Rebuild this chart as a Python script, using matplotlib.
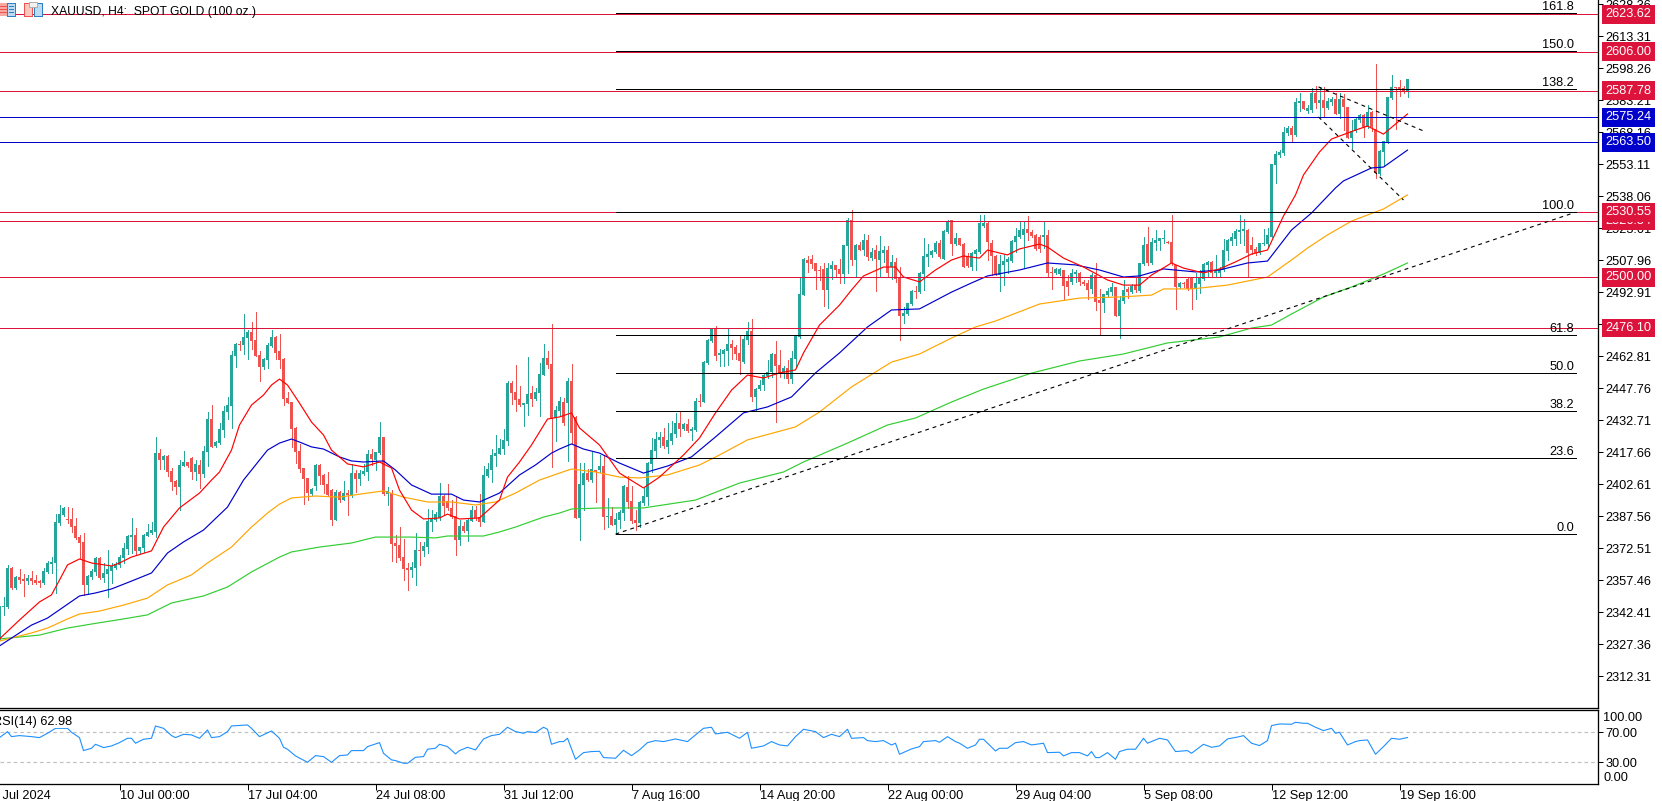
# XAUUSD H4 chart - MT5 style, candles + MAs + fibo + RSI panel
import matplotlib
matplotlib.use('Agg')
import matplotlib.pyplot as plt
from matplotlib.patches import Rectangle

plt.rcParams['font.family'] = ['Liberation Sans', 'DejaVu Sans']
plt.rcParams['font.size'] = 9.2

# OHLC, one value per H4 bar
opens = [
    2330.8, 2345.0, 2345.0, 2363.3, 2353.8, 2358.9, 2357.9, 2357.1, 2358.4, 2357.6,
    2357.1, 2356.3, 2361.5, 2365.3, 2365.8, 2384.4, 2388.2, 2386.3, 2386.3, 2383.0,
    2377.8, 2375.5, 2355.2, 2359.2, 2361.2, 2368.0, 2358.6, 2360.4, 2362.0, 2363.2,
    2364.5, 2368.0, 2372.2, 2378.0, 2378.8, 2371.1, 2372.7, 2378.3, 2379.7, 2380.2,
    2417.3, 2414.0, 2416.1, 2408.9, 2404.2, 2401.4, 2411.2, 2412.9, 2415.0, 2408.4,
    2411.7, 2407.4, 2417.8, 2433.3, 2420.6, 2422.0, 2428.1, 2436.6, 2439.4, 2463.0,
    2468.6, 2468.1, 2471.4, 2474.2, 2470.5, 2463.4, 2457.8, 2461.1, 2467.7, 2471.9,
    2465.3, 2461.5, 2443.2, 2441.3, 2429.1, 2418.3, 2410.3, 2405.6, 2398.0, 2401.8,
    2411.7, 2407.0, 2402.8, 2399.9, 2385.8, 2399.0, 2395.2, 2398.5, 2397.6, 2407.9,
    2405.1, 2407.5, 2408.4, 2416.9, 2414.0, 2417.3, 2424.9, 2398.0, 2398.5, 2375.0,
    2374.1, 2368.4, 2363.3, 2362.3, 2363.3, 2371.7, 2371.2, 2373.1, 2384.9, 2385.8,
    2386.8, 2397.1, 2394.8, 2391.5, 2387.7, 2376.4, 2382.8, 2380.6, 2385.3, 2390.5,
    2387.1, 2384.9, 2406.5, 2409.3, 2415.9, 2416.9, 2419.2, 2423.0, 2450.3, 2446.0,
    2442.7, 2439.9, 2440.4, 2445.5, 2442.7, 2445.5, 2454.0, 2462.0, 2459.2, 2433.8,
    2437.1, 2441.5, 2441.0, 2451.2, 2434.4, 2386.6, 2402.3, 2408.1, 2404.6, 2409.3,
    2409.3, 2411.2, 2387.1, 2387.7, 2383.5, 2385.8, 2389.3, 2401.2, 2394.7, 2385.8,
    2384.6, 2393.6, 2396.8, 2412.2, 2418.3, 2423.4, 2424.7, 2420.3, 2423.1, 2426.1,
    2431.3, 2428.6, 2431.0, 2427.8, 2428.1, 2441.9, 2441.5, 2459.6, 2470.0, 2475.6,
    2463.4, 2463.9, 2465.3, 2468.6, 2467.0, 2464.4, 2460.1, 2470.5, 2474.7, 2443.7,
    2447.4, 2449.3, 2453.5, 2455.3, 2463.9, 2458.7, 2455.4, 2457.5, 2452.1, 2461.5,
    2471.9, 2491.6, 2508.1, 2508.6, 2506.5, 2503.4, 2503.7, 2494.0, 2503.9, 2505.7,
    2503.9, 2501.5, 2514.7, 2526.9, 2508.1, 2515.1, 2512.8, 2517.5, 2508.9, 2512.8,
    2508.1, 2511.4, 2512.8, 2504.6, 2507.2, 2499.9, 2481.8, 2482.5, 2487.3, 2493.5,
    2493.2, 2501.4, 2509.5, 2510.4, 2511.9, 2516.1, 2508.7, 2521.1, 2526.9, 2515.6,
    2518.4, 2515.6, 2510.0, 2505.0, 2510.8, 2511.9, 2524.1, 2525.5, 2516.2, 2510.0,
    2501.0, 2505.7, 2507.3, 2507.8, 2516.6, 2518.9, 2519.9, 2522.7, 2521.3, 2519.9,
    2519.1, 2519.1, 2519.9, 2502.6, 2501.8, 2501.5, 2503.4, 2498.2, 2497.8, 2501.4,
    2501.8, 2497.8, 2497.3, 2494.5, 2501.0, 2489.3, 2488.0, 2491.6, 2493.0, 2495.4,
    2481.8, 2488.8, 2494.3, 2493.0, 2496.3, 2493.5, 2506.2, 2515.6, 2506.5, 2516.2,
    2517.0, 2517.8, 2516.7, 2516.6, 2505.6, 2495.3, 2497.4, 2499.0, 2499.9, 2494.3,
    2496.8, 2499.0, 2505.7, 2507.3, 2501.8, 2501.8, 2503.4, 2512.3, 2517.0, 2518.1,
    2521.4, 2521.6, 2522.2, 2515.2, 2513.3, 2511.5, 2515.6, 2515.6, 2519.1, 2552.8,
    2557.5, 2558.4, 2567.8, 2570.2, 2566.9, 2581.9, 2582.9, 2578.2, 2578.6, 2586.6,
    2581.8, 2583.4, 2579.4, 2582.4, 2583.8, 2576.8, 2583.8, 2579.9, 2565.3, 2568.8,
    2573.9, 2576.3, 2570.5, 2577.9, 2569.6, 2548.6, 2558.9, 2563.6, 2584.3, 2589.3,
    2589.3, 2588.8, 2587.6,
]
highs = [
    2345.5, 2349.8, 2364.7, 2363.5, 2359.5, 2362.6, 2360.4, 2359.8, 2361.8, 2359.8,
    2357.6, 2363.1, 2366.7, 2368.3, 2388.6, 2392.9, 2392.1, 2391.8, 2391.5, 2386.8,
    2378.9, 2379.7, 2360.1, 2362.6, 2368.6, 2368.6, 2365.4, 2371.7, 2365.4, 2365.9,
    2369.4, 2374.9, 2378.6, 2386.6, 2381.9, 2373.1, 2379.1, 2383.8, 2385.0, 2424.9,
    2419.2, 2416.5, 2416.4, 2410.1, 2404.6, 2414.0, 2418.3, 2413.1, 2415.5, 2414.0,
    2414.0, 2420.6, 2436.8, 2439.9, 2423.0, 2431.6, 2439.4, 2443.5, 2465.3, 2469.2,
    2470.0, 2482.7, 2475.2, 2479.0, 2483.5, 2465.3, 2462.0, 2469.1, 2475.2, 2472.4,
    2473.1, 2461.8, 2445.9, 2441.5, 2429.4, 2421.6, 2410.4, 2405.7, 2401.0, 2412.2,
    2412.2, 2407.5, 2408.4, 2400.2, 2399.9, 2399.5, 2404.2, 2399.9, 2412.2, 2409.3,
    2409.3, 2412.2, 2418.7, 2419.2, 2417.9, 2431.9, 2425.0, 2401.3, 2399.9, 2378.8,
    2382.5, 2376.9, 2365.6, 2366.1, 2379.7, 2375.5, 2375.5, 2391.0, 2390.5, 2389.6,
    2403.2, 2397.6, 2402.8, 2395.2, 2396.6, 2385.8, 2384.9, 2386.6, 2392.4, 2392.4,
    2398.0, 2411.2, 2412.8, 2419.2, 2425.8, 2423.9, 2428.6, 2451.2, 2451.2, 2458.7,
    2448.8, 2440.9, 2462.5, 2448.8, 2447.9, 2459.7, 2468.6, 2465.3, 2478.0, 2439.4,
    2443.7, 2443.0, 2452.8, 2459.2, 2434.6, 2412.5, 2412.5, 2409.6, 2417.9, 2409.4,
    2416.4, 2416.4, 2396.0, 2392.1, 2388.9, 2390.5, 2402.3, 2406.5, 2401.8, 2390.5,
    2394.9, 2400.7, 2413.3, 2424.2, 2427.0, 2427.4, 2428.9, 2431.3, 2432.5, 2436.0,
    2436.8, 2431.4, 2433.1, 2429.4, 2443.0, 2444.9, 2460.6, 2470.9, 2476.1, 2477.0,
    2466.2, 2466.2, 2475.6, 2470.5, 2468.1, 2472.4, 2472.8, 2478.9, 2480.3, 2447.7,
    2451.7, 2454.8, 2461.1, 2464.2, 2470.0, 2465.8, 2458.3, 2461.1, 2465.1, 2472.8,
    2499.8, 2509.0, 2510.0, 2510.4, 2506.7, 2505.3, 2506.5, 2506.8, 2507.6, 2505.9,
    2508.6, 2515.2, 2527.7, 2531.6, 2515.5, 2516.7, 2520.3, 2519.9, 2513.6, 2515.2,
    2519.4, 2514.7, 2514.7, 2510.4, 2508.9, 2504.6, 2485.8, 2488.0, 2494.0, 2495.9,
    2502.4, 2518.4, 2515.6, 2512.8, 2517.0, 2517.5, 2522.2, 2526.9, 2527.1, 2520.6,
    2518.5, 2516.0, 2511.2, 2512.0, 2513.1, 2529.3, 2529.3, 2526.1, 2517.5, 2510.4,
    2510.4, 2510.4, 2509.7, 2517.5, 2523.0, 2525.8, 2526.0, 2528.8, 2522.2, 2520.2,
    2519.9, 2526.4, 2522.2, 2504.6, 2504.5, 2504.2, 2503.6, 2501.0, 2503.9, 2503.4,
    2502.6, 2498.7, 2498.7, 2502.1, 2506.5, 2494.5, 2492.1, 2494.8, 2497.1, 2495.6,
    2491.2, 2498.7, 2495.2, 2496.6, 2499.9, 2506.7, 2519.1, 2523.6, 2518.3, 2522.2,
    2518.6, 2522.2, 2517.2, 2529.3, 2505.7, 2497.9, 2497.9, 2500.3, 2500.3, 2501.8,
    2503.4, 2506.8, 2507.8, 2507.8, 2510.4, 2504.6, 2518.1, 2518.1, 2520.6, 2522.8,
    2529.3, 2527.2, 2522.5, 2519.1, 2514.4, 2516.3, 2522.7, 2523.0, 2553.2, 2559.5,
    2559.8, 2570.8, 2571.1, 2571.1, 2584.1, 2586.5, 2583.0, 2581.0, 2589.1, 2589.9,
    2589.3, 2589.3, 2584.1, 2584.6, 2586.8, 2586.5, 2586.2, 2580.0, 2573.9, 2574.7,
    2576.8, 2576.8, 2581.0, 2578.0, 2600.3, 2559.8, 2564.1, 2584.9, 2595.1, 2589.4,
    2592.8, 2589.9, 2593.2,
]
lows = [
    2330.0, 2341.1, 2344.3, 2353.2, 2353.5, 2356.3, 2350.1, 2355.7, 2355.6, 2355.6,
    2354.2, 2355.9, 2361.0, 2360.7, 2351.3, 2383.5, 2387.7, 2384.6, 2380.3, 2376.7,
    2367.8, 2350.5, 2350.9, 2357.9, 2360.0, 2357.9, 2356.8, 2349.5, 2356.3, 2362.9,
    2363.9, 2365.4, 2369.8, 2370.1, 2369.8, 2370.1, 2370.9, 2378.1, 2379.4, 2378.0,
    2410.0, 2410.0, 2406.5, 2399.9, 2397.9, 2390.5, 2411.2, 2410.6, 2405.1, 2404.6,
    2400.7, 2406.2, 2411.2, 2420.2, 2420.2, 2421.7, 2424.9, 2433.3, 2429.1, 2457.9,
    2465.8, 2463.9, 2461.5, 2466.2, 2463.0, 2451.2, 2457.0, 2457.3, 2467.2, 2461.4,
    2457.3, 2439.9, 2440.7, 2420.3, 2412.6, 2408.4, 2393.3, 2395.2, 2397.6, 2399.9,
    2402.8, 2398.4, 2397.6, 2383.5, 2385.6, 2394.4, 2395.0, 2388.2, 2396.8, 2399.0,
    2402.1, 2407.0, 2404.6, 2411.7, 2409.3, 2416.9, 2397.7, 2392.9, 2366.5, 2366.2,
    2367.0, 2357.6, 2352.9, 2359.0, 2355.2, 2364.7, 2368.9, 2370.1, 2380.6, 2385.3,
    2385.8, 2388.2, 2390.5, 2386.8, 2369.4, 2374.1, 2380.2, 2376.0, 2385.3, 2385.8,
    2383.0, 2384.9, 2406.2, 2403.7, 2411.2, 2416.9, 2416.9, 2421.1, 2440.4, 2437.1,
    2439.4, 2430.0, 2435.2, 2439.4, 2442.3, 2434.7, 2453.9, 2457.3, 2410.7, 2423.0,
    2435.2, 2430.5, 2413.7, 2421.9, 2386.6, 2376.4, 2390.5, 2404.3, 2403.8, 2394.4,
    2408.5, 2381.4, 2382.7, 2383.5, 2379.5, 2381.9, 2385.8, 2391.3, 2384.3, 2381.1,
    2382.7, 2392.9, 2392.9, 2408.5, 2415.6, 2420.3, 2419.5, 2417.2, 2421.6, 2425.0,
    2425.3, 2428.1, 2427.4, 2423.4, 2427.8, 2439.4, 2441.3, 2459.2, 2469.5, 2461.1,
    2458.3, 2458.3, 2458.7, 2461.5, 2461.5, 2454.5, 2459.5, 2468.6, 2441.8, 2437.5,
    2447.0, 2447.0, 2452.4, 2453.2, 2431.9, 2453.2, 2452.4, 2450.4, 2450.4, 2458.3,
    2471.4, 2491.6, 2502.4, 2504.3, 2494.5, 2498.7, 2486.5, 2485.5, 2499.2, 2500.6,
    2497.1, 2497.1, 2501.8, 2505.7, 2500.6, 2512.6, 2510.4, 2508.1, 2508.1, 2493.7,
    2500.6, 2507.3, 2499.9, 2499.0, 2497.9, 2470.5, 2478.3, 2482.2, 2486.9, 2490.1,
    2492.7, 2494.0, 2505.3, 2509.7, 2511.2, 2508.9, 2508.6, 2520.6, 2510.4, 2515.2,
    2515.1, 2505.0, 2504.6, 2503.4, 2503.4, 2511.2, 2523.8, 2508.1, 2501.0, 2500.9,
    2493.7, 2496.3, 2501.8, 2507.2, 2512.0, 2518.3, 2504.2, 2517.5, 2519.1, 2512.8,
    2512.0, 2513.6, 2499.9, 2494.3, 2501.5, 2501.0, 2489.8, 2491.6, 2496.8, 2497.9,
    2496.3, 2496.3, 2489.6, 2492.4, 2484.6, 2473.3, 2483.6, 2490.9, 2491.6, 2481.8,
    2471.6, 2487.7, 2490.1, 2492.7, 2493.2, 2493.2, 2505.7, 2505.7, 2506.2, 2512.8,
    2512.8, 2515.9, 2515.9, 2505.7, 2485.2, 2494.8, 2495.3, 2494.0, 2485.2, 2489.8,
    2492.4, 2498.7, 2500.3, 2499.9, 2499.9, 2500.3, 2502.9, 2508.1, 2515.2, 2515.2,
    2515.9, 2515.2, 2500.6, 2510.9, 2510.4, 2510.9, 2515.2, 2514.4, 2519.0, 2544.2,
    2556.7, 2557.5, 2566.9, 2563.6, 2566.4, 2578.2, 2579.0, 2577.4, 2577.9, 2579.4,
    2575.5, 2575.2, 2579.0, 2581.0, 2576.6, 2574.7, 2569.2, 2565.3, 2560.6, 2568.3,
    2573.2, 2565.8, 2570.0, 2568.9, 2546.8, 2548.1, 2552.3, 2563.0, 2584.0, 2569.6,
    2585.4, 2586.5, 2584.8,
]
closes = [
    2344.9, 2345.4, 2363.3, 2353.8, 2359.2, 2357.6, 2357.1, 2358.4, 2357.1, 2356.2,
    2356.2, 2361.8, 2365.6, 2366.2, 2384.9, 2388.6, 2391.6, 2386.0, 2382.5, 2377.4,
    2375.0, 2355.2, 2359.6, 2362.0, 2368.0, 2358.4, 2360.7, 2362.6, 2364.2, 2365.1,
    2368.4, 2372.7, 2378.3, 2378.8, 2371.2, 2373.1, 2378.8, 2380.2, 2381.1, 2417.3,
    2414.0, 2416.1, 2408.4, 2403.9, 2401.4, 2411.7, 2413.1, 2411.2, 2408.4, 2412.0,
    2407.4, 2418.3, 2433.3, 2420.3, 2422.5, 2428.6, 2437.1, 2439.9, 2463.4, 2468.6,
    2468.1, 2471.9, 2474.2, 2470.0, 2463.0, 2457.8, 2461.5, 2468.1, 2471.9, 2464.4,
    2461.1, 2442.7, 2440.9, 2428.6, 2417.8, 2409.8, 2405.1, 2398.5, 2400.4, 2411.7,
    2406.5, 2402.3, 2397.6, 2385.8, 2399.0, 2395.2, 2398.5, 2397.6, 2407.9, 2405.1,
    2407.9, 2408.9, 2416.9, 2414.5, 2417.8, 2424.9, 2398.0, 2399.5, 2374.5, 2373.6,
    2368.0, 2362.8, 2362.3, 2363.7, 2371.7, 2371.2, 2373.6, 2385.4, 2386.3, 2388.6,
    2397.1, 2392.4, 2391.5, 2387.2, 2376.4, 2383.0, 2380.6, 2385.8, 2390.5, 2386.6,
    2385.0, 2407.0, 2409.8, 2416.4, 2417.3, 2419.7, 2423.4, 2450.3, 2445.5, 2442.3,
    2439.9, 2440.9, 2445.1, 2442.7, 2446.0, 2454.5, 2462.0, 2458.7, 2433.3, 2437.6,
    2441.9, 2431.6, 2451.4, 2426.9, 2386.6, 2402.8, 2407.8, 2404.6, 2409.6, 2408.5,
    2411.4, 2387.4, 2387.7, 2383.5, 2386.1, 2389.6, 2401.6, 2394.4, 2385.5, 2384.6,
    2394.4, 2397.1, 2412.5, 2418.7, 2424.1, 2424.7, 2420.6, 2423.4, 2426.6, 2431.3,
    2428.6, 2431.0, 2427.8, 2428.6, 2441.8, 2441.5, 2460.1, 2470.5, 2475.6, 2462.9,
    2464.4, 2465.8, 2468.6, 2466.7, 2463.9, 2460.6, 2470.9, 2474.7, 2443.7, 2447.4,
    2449.3, 2454.0, 2455.6, 2463.9, 2458.3, 2454.8, 2457.5, 2452.1, 2462.0, 2472.4,
    2492.1, 2508.6, 2506.8, 2506.2, 2502.9, 2503.1, 2494.0, 2504.3, 2505.7, 2503.4,
    2501.5, 2515.1, 2526.9, 2508.1, 2515.1, 2512.8, 2517.5, 2509.5, 2511.9, 2508.6,
    2512.3, 2512.8, 2502.1, 2507.2, 2499.0, 2481.8, 2483.0, 2487.7, 2493.5, 2493.2,
    2501.8, 2510.0, 2510.9, 2512.3, 2516.1, 2509.3, 2521.6, 2526.4, 2515.6, 2518.4,
    2515.2, 2505.0, 2505.3, 2511.5, 2512.8, 2525.5, 2525.5, 2516.7, 2510.0, 2501.0,
    2506.2, 2507.8, 2508.6, 2517.0, 2519.4, 2522.2, 2522.7, 2520.8, 2519.4, 2513.3,
    2513.3, 2519.9, 2502.1, 2501.8, 2503.9, 2503.9, 2495.9, 2495.6, 2501.8, 2502.4,
    2497.6, 2496.8, 2494.0, 2501.0, 2488.5, 2487.7, 2492.1, 2493.5, 2495.4, 2481.8,
    2489.3, 2494.0, 2493.2, 2495.9, 2494.0, 2506.7, 2515.2, 2506.5, 2516.7, 2517.5,
    2518.4, 2518.4, 2516.2, 2506.5, 2495.6, 2497.4, 2496.8, 2494.3, 2494.3, 2497.1,
    2499.5, 2506.2, 2507.3, 2502.1, 2503.4, 2503.7, 2512.8, 2517.5, 2519.1, 2521.7,
    2522.2, 2522.5, 2511.2, 2512.8, 2511.2, 2516.2, 2516.2, 2519.9, 2553.2, 2557.9,
    2558.9, 2568.3, 2570.2, 2566.9, 2582.6, 2582.9, 2579.1, 2579.6, 2586.6, 2581.8,
    2583.4, 2579.4, 2582.9, 2583.8, 2576.8, 2583.8, 2580.2, 2565.6, 2568.8, 2574.3,
    2576.3, 2570.5, 2577.9, 2570.8, 2548.9, 2559.4, 2564.0, 2584.6, 2589.3, 2588.8,
    2588.0, 2587.3, 2593.2,
]

# moving averages, read at the bars where they bend
ma_red_bars = [0, 5, 10, 13, 15, 17, 20, 23, 28, 30, 33, 38, 41, 45, 50, 53, 55, 58, 60, 63, 66, 68, 70, 72, 75, 78, 81, 83, 87, 91, 95, 98, 100, 103, 106, 110, 112, 115, 120, 125, 127, 130, 133, 137, 140, 143, 145, 150, 155, 161, 165, 171, 175, 179, 183, 187, 191, 195, 199, 201, 205, 210, 213, 216, 221, 224, 226, 230, 234, 238, 241, 245, 247, 250, 252, 255, 260, 262, 266, 271, 277, 281, 285, 288, 293, 296, 301, 305, 309, 313, 317, 321, 324, 326, 330, 333, 339, 342, 346, 352]
ma_red = [2329.9, 2338.8, 2347.3, 2350.6, 2357.6, 2364.7, 2367.5, 2365.6, 2364.2, 2365.6, 2368.4, 2371.3, 2382.5, 2391.5, 2398.5, 2404.6, 2408.4, 2418.7, 2430.5, 2439.9, 2444.6, 2449.3, 2452.1, 2449.3, 2440.8, 2431.9, 2425.8, 2418.7, 2412.2, 2410.8, 2413.1, 2410.3, 2399.9, 2390.5, 2386.3, 2386.8, 2388.6, 2386.3, 2386.8, 2395.2, 2406.0, 2413.1, 2421.1, 2433.3, 2434.3, 2436.2, 2429.1, 2421.1, 2407.9, 2400.9, 2406.0, 2416.4, 2424.4, 2436.2, 2446.9, 2454.0, 2452.6, 2455.0, 2456.4, 2464.4, 2477.5, 2486.9, 2494.0, 2500.6, 2504.8, 2504.8, 2500.1, 2497.8, 2503.4, 2508.1, 2510.0, 2509.0, 2512.8, 2511.4, 2510.5, 2513.3, 2515.6, 2514.2, 2509.0, 2504.8, 2498.7, 2496.3, 2496.3, 2501.0, 2506.7, 2504.3, 2502.0, 2503.9, 2507.2, 2510.9, 2512.8, 2528.8, 2538.7, 2548.1, 2558.9, 2565.0, 2569.2, 2571.1, 2567.3, 2576.8]
ma_blue_bars = [0, 3, 8, 12, 16, 20, 24, 28, 33, 38, 42, 46, 51, 57, 61, 67, 70, 73, 75, 78, 81, 85, 88, 91, 96, 99, 103, 108, 113, 116, 120, 125, 130, 134, 138, 140, 143, 146, 150, 155, 161, 167, 173, 179, 186, 192, 198, 204, 210, 217, 223, 230, 238, 243, 247, 255, 262, 269, 275, 281, 285, 291, 299, 305, 312, 317, 323, 328, 334, 336, 343, 346, 352]
ma_blue = [2326.6, 2330.3, 2336.4, 2339.7, 2344.9, 2350.1, 2351.5, 2353.4, 2357.1, 2360.9, 2370.3, 2375.5, 2381.1, 2391.9, 2404.6, 2418.7, 2422.0, 2423.9, 2422.5, 2420.2, 2419.2, 2415.5, 2413.6, 2413.1, 2413.6, 2409.3, 2402.3, 2398.0, 2398.0, 2395.2, 2394.3, 2398.5, 2407.0, 2411.7, 2417.3, 2419.2, 2421.6, 2419.2, 2417.3, 2412.6, 2407.9, 2411.2, 2415.5, 2424.9, 2436.2, 2439.0, 2443.7, 2455.0, 2464.4, 2476.6, 2484.6, 2485.1, 2493.0, 2497.3, 2500.6, 2503.4, 2506.7, 2505.8, 2503.4, 2500.1, 2500.6, 2503.9, 2502.5, 2503.4, 2506.7, 2507.6, 2522.2, 2530.2, 2542.0, 2545.3, 2551.4, 2551.8, 2559.8]
ma_orange_bars = [0, 8, 12, 17, 20, 25, 31, 37, 42, 48, 52, 58, 63, 67, 70, 73, 79, 85, 92, 96, 101, 107, 113, 119, 124, 129, 135, 140, 143, 149, 155, 160, 167, 175, 180, 187, 199, 205, 213, 223, 230, 238, 244, 249, 260, 270, 280, 288, 291, 298, 307, 317, 323, 327, 332, 338, 344, 346, 352]
ma_orange = [2328.9, 2332.7, 2335.0, 2339.3, 2341.6, 2343.0, 2345.8, 2349.1, 2355.3, 2360.0, 2365.6, 2373.1, 2382.5, 2389.1, 2393.3, 2396.2, 2397.1, 2396.6, 2398.5, 2399.5, 2396.6, 2394.3, 2394.3, 2392.9, 2394.3, 2398.5, 2404.6, 2407.9, 2409.8, 2408.4, 2406.0, 2405.6, 2407.0, 2411.7, 2416.4, 2423.5, 2429.6, 2436.6, 2448.4, 2460.1, 2463.9, 2471.4, 2476.6, 2479.4, 2487.4, 2490.2, 2490.7, 2491.6, 2494.5, 2494.5, 2496.3, 2500.1, 2508.1, 2513.7, 2519.9, 2526.4, 2530.7, 2532.1, 2538.7]
ma_green_bars = [0, 5, 10, 17, 23, 31, 37, 43, 51, 57, 63, 70, 73, 80, 88, 94, 103, 109, 112, 121, 125, 129, 136, 140, 143, 151, 161, 174, 185, 196, 201, 212, 222, 229, 238, 246, 258, 270, 281, 292, 305, 313, 318, 323, 331, 338, 346, 352]
ma_green = [2329.9, 2330.8, 2331.7, 2335.0, 2336.9, 2339.3, 2341.2, 2346.8, 2350.1, 2354.3, 2361.4, 2368.4, 2370.8, 2373.1, 2375.0, 2377.8, 2377.8, 2377.4, 2378.3, 2378.3, 2380.2, 2382.5, 2387.2, 2389.1, 2391.0, 2391.5, 2391.5, 2395.2, 2403.2, 2408.4, 2413.1, 2422.0, 2430.5, 2433.8, 2441.3, 2447.4, 2454.9, 2460.6, 2463.9, 2469.1, 2471.9, 2476.1, 2477.5, 2482.7, 2490.7, 2495.4, 2501.5, 2506.7]

# RSI(14), read at its turning points
rsi_bars = [0, 2, 3, 5, 8, 10, 12, 14, 17, 18, 20, 21, 23, 24, 26, 28, 30, 32, 33, 34, 36, 38, 39, 41, 43, 44, 46, 48, 50, 52, 53, 55, 57, 58, 62, 63, 65, 68, 70, 71, 72, 74, 77, 79, 81, 83, 85, 87, 88, 91, 92, 95, 96, 98, 99, 101, 102, 104, 106, 107, 109, 110, 112, 114, 115, 117, 119, 121, 123, 125, 127, 129, 131, 132, 134, 136, 137, 138, 140, 141, 142, 144, 146, 148, 150, 151, 154, 156, 158, 160, 162, 164, 166, 169, 172, 174, 176, 178, 179, 182, 185, 187, 188, 191, 193, 195, 197, 199, 201, 204, 206,
            208, 210, 212, 213, 216, 217, 219, 221, 223, 224, 225, 228, 230, 231, 234, 235, 237, 239, 240, 242, 244, 245, 246, 249, 250, 252, 254, 256, 258, 261, 262, 265, 266, 268, 270, 272, 273, 274, 275, 277, 279, 280, 282, 284, 286, 287, 290, 292, 294, 297, 298, 301, 303, 305, 307, 310, 311, 313, 315, 317, 318, 320, 323, 324, 326, 327, 329, 331, 333, 334, 335, 337, 339, 340, 342, 344, 346, 348, 350, 352]
rsi_vals = [62.9, 70.9, 64.2, 65.6, 64.2, 62.9, 68.7, 75.3, 75.3, 70, 62.9, 45.6, 48.7, 54, 49.6, 51.8, 56.2, 62, 62, 55.4, 60.7, 62, 78.4, 75.3, 65.6, 62.9, 67.3, 66.5, 62, 73.1, 62.9, 64.2, 70.9, 78.4, 79.8, 75.3, 64.2, 71.8, 62, 50, 47.4, 38.5, 30, 38.9, 37.6, 30, 38.9, 39.8, 45.6, 45.6, 50.9, 56.2, 42, 33.2, 32.3, 28.7, 28.7, 36.7, 37.6, 47.4, 48.7, 54, 50.9, 41.2, 45.6, 50, 46.5, 61.1, 65.6, 67.3, 76.7, 70.9, 68.7, 70.9, 69.6, 76.7, 74, 54, 57.6, 57.6, 62, 34, 42.9, 44.3, 44.7, 36.3, 35.4, 46, 38.9, 46.5, 56.2, 58.9, 57.6, 61.1, 57.6, 66.5, 75.3, 76.7, 67.8, 70, 62, 70, 48.7, 51.8, 57.6, 53.1, 51.8, 64.2, 74, 70.9, 62.9,
            67.3, 64.2, 74, 62, 62.9, 58.9, 57.6, 58.9, 53.1, 55.4, 40.7, 47.8, 50.9, 57.6, 58.9, 56.7, 64.2, 57.6, 55.4, 48.7, 53.1, 60.7, 60.7, 45.1, 48.7, 48.7, 56.2, 57.6, 53.1, 55.4, 42.9, 43.4, 38.5, 42.9, 42.9, 38.5, 44.3, 36.3, 36.3, 42.9, 34, 44.3, 47.4, 47.4, 62, 55.4, 62, 59.8, 44.3, 45.6, 42, 54, 50, 51.8, 61.1, 64.2, 65.6, 55.4, 52.3, 58.9, 78.9, 81.1, 80.7, 83.3, 82, 82, 76.7, 72.2, 75.3, 68.7, 70, 53.1, 57.6, 58.9, 59.8, 40.7, 50.9, 62, 60.7, 62.98]

# horizontal levels and their price tags
red_levels = [2476.10, 2500.00, 2526.54, 2530.55, 2587.78, 2606.00, 2623.62]
blue_levels = [2563.50, 2575.24]
fib_labels = ['0.0', '23.6', '38.2', '50.0', '61.8', '100.0', '138.2', '150.0', '161.8']
fib_prices = [2379.2, 2414.9, 2437.0, 2454.9, 2472.7, 2530.55, 2588.4, 2606.2, 2624.1]

price_ticks = [2628.36, 2613.31, 2598.26, 2583.21, 2568.16, 2553.11, 2538.06, 2523.01, 2507.96, 2492.91, 2477.86,
               2462.81, 2447.76, 2432.71, 2417.66, 2402.61, 2387.56, 2372.51, 2357.46, 2342.41, 2327.36, 2312.31]
time_bars = [30, 62, 94, 126, 158, 190, 222, 254, 286, 318, 350]
time_labels = ['10 Jul 00:00', '17 Jul 04:00', '24 Jul 08:00', '31 Jul 12:00', '7 Aug 16:00', '14 Aug 20:00',
               '22 Aug 00:00', '29 Aug 04:00', '5 Sep 08:00', '12 Sep 12:00', '19 Sep 16:00']

# dashed trend lines (bar, price)
trend_long_bars, trend_long_prices = [154, 394], [2379.2, 2530.55]
trend_a_bars, trend_a_prices = [329.75, 356], [2589.5, 2568.8]
trend_b_bars, trend_b_prices = [329.75, 351], [2575.4, 2536.3]

UP = '#26a69a'
DOWN = '#ef5350'
CRIMSON = '#dc143c'
BLUE = '#0000cd'
PX = 0.72  # one pixel in points at dpi 100

W, H = 1662, 801
fig = plt.figure(figsize=(W / 100, H / 100), dpi=100, facecolor='white')

def axes_px(left, top, right, bottom):
    return fig.add_axes([left / W, 1 - bottom / H, (right - left) / W, (bottom - top) / H])

ax = axes_px(0, 0, 1598, 708)
ax2 = axes_px(0, 710, 1598, 784)
xlim = (0.125, 399.625)

# candles
bars = list(range(len(opens)))
colors = [UP if c >= o else DOWN for o, c in zip(opens, closes)]
ax.vlines(bars, lows, highs, colors=colors, linewidth=PX, antialiased=False, zorder=2)
body_low = [min(o, c) for o, c in zip(opens, closes)]
body_h = [max(abs(c - o), 0.47) for o, c in zip(opens, closes)]
ax.bar(bars, body_h, bottom=body_low, width=0.78, color=colors, linewidth=0, antialiased=False, zorder=2)

# MAs
for b, v, col in [(ma_green_bars, ma_green, '#32cd32'), (ma_orange_bars, ma_orange, 'orange'),
                  (ma_blue_bars, ma_blue, BLUE), (ma_red_bars, ma_red, 'red')]:
    ax.plot(b, v, color=col, linewidth=0.85, zorder=3)

# levels
for v in red_levels:
    ax.axhline(v, color=CRIMSON, linewidth=PX, antialiased=False, zorder=4)
for v in blue_levels:
    ax.axhline(v, color=BLUE, linewidth=PX, antialiased=False, zorder=4)

# fibo
ax.hlines(fib_prices, trend_long_bars[0], trend_long_bars[1], colors='black', linewidth=PX,
          antialiased=False, zorder=5)
for lab, v in zip(fib_labels, fib_prices):
    ax.annotate(lab, xy=(trend_long_bars[1], v), xytext=(-1, 2.5), textcoords='offset points',
                ha='right', va='baseline', fontsize=9.2, zorder=6)

# trend lines
for b, v in [(trend_long_bars, trend_long_prices), (trend_a_bars, trend_a_prices), (trend_b_bars, trend_b_prices)]:
    ax.plot(b, v, color='black', linewidth=0.8, linestyle=(0, (3.5, 3.5)), zorder=5)

ax.set_xlim(*xlim)
ax.set_ylim(2297.41, 2630.38)
ax.set_xticks([])
ax.yaxis.tick_right()
ax.set_yticks(price_ticks)
ax.set_yticklabels([f'{v:.2f}' for v in price_ticks])
ax.tick_params(axis='y', length=3.6, width=PX, pad=1.5, labelsize=9.2)
for s in ['left', 'top']:
    ax.spines[s].set_visible(False)
for s in ['right', 'bottom']:
    ax.spines[s].set_linewidth(PX * 1.3)

# price tags, higher ones drawn over lower ones
tags = [(v, CRIMSON) for v in red_levels] + [(v, BLUE) for v in blue_levels]
for v, col in sorted(tags):
    ax.annotate(f'{v:.2f}', xy=(1, v), xycoords=('axes fraction', 'data'), xytext=(5.4, 0),
                textcoords='offset points', ha='left', va='center', color='white', fontsize=9.2,
                annotation_clip=False, zorder=20,
                bbox=dict(boxstyle='square,pad=0.27', fc=col, ec='none'))

# RSI panel
ax2.axhline(70, color='#c0c0c0', linewidth=PX * 1.2, linestyle=(0, (3, 2.5)), zorder=1)
ax2.axhline(30, color='#c0c0c0', linewidth=PX * 1.2, linestyle=(0, (3, 2.5)), zorder=1)
ax2.plot(rsi_bars, rsi_vals, color='#1e90ff', linewidth=0.8, zorder=2)
ax2.set_xlim(*xlim)
ax2.set_ylim(1.07, 99.7)
ax2.yaxis.tick_right()
ax2.set_yticks([70, 30])
ax2.set_yticklabels(['70.00', '30.00'])
ax2.tick_params(axis='y', length=3.6, width=PX, pad=1.5, labelsize=9.2)
ax2.set_xticks(time_bars)
ax2.set_xticklabels(time_labels, ha='left')
ax2.tick_params(axis='x', length=4, width=PX, pad=0.5, labelsize=9.2)
ax2.spines['left'].set_visible(False)
for s in ['right', 'bottom', 'top']:
    ax2.spines[s].set_linewidth(PX * 1.3)
ax2.text(-2, -0.085, '3 Jul 2024', transform=ax2.get_xaxis_transform(), ha='left', va='top',
         fontsize=9.2, clip_on=False)
ax2.annotate('100.00', xy=(1, 1), xycoords='axes fraction', xytext=(3.6, -6), textcoords='offset points',
             va='center', fontsize=9.2, annotation_clip=False)
ax2.annotate('0.00', xy=(1, 0), xycoords='axes fraction', xytext=(3.6, 4.5), textcoords='offset points',
             va='center', fontsize=9.2, annotation_clip=False)
ax2.annotate('RSI(14) 62.98', xy=(0, 1), xycoords='axes fraction', xytext=(-5.2, -8.5), textcoords='offset points',
             va='center', fontsize=9.2, annotation_clip=False, zorder=10,
             bbox=dict(boxstyle='square,pad=0.05', fc='white', ec='none'))

# header text and the two little icons
fig.text(51 / W, 1 - 14.5 / H, 'XAUUSD, H4:  SPOT GOLD (100 oz.)', ha='left', va='baseline', fontsize=8.7,
         zorder=30)

def px_rect(x0, y0, x1, y1, fc, ec='none'):
    fig.add_artist(Rectangle((x0 / W, 1 - y1 / H), (x1 - x0) / W, (y1 - y0) / H, transform=fig.transFigure,
                             fc=fc, ec=ec, linewidth=PX, antialiased=False, zorder=30))

px_rect(0, 3, 7, 16, '#f7a8a0')
px_rect(7, 3, 15, 16, '#bcdcf4', '#2f7fc1')
for yy in (6, 9, 12):
    px_rect(0, yy, 7, yy + 1, '#ef5350')
    px_rect(9, yy, 14, yy + 1, '#2f7fc1')
px_rect(24, 3, 32, 16, '#fbc8c0', '#ef5350')
px_rect(34, 3, 42, 16, '#bcdcf4', '#2f7fc1')
px_rect(29, 2, 37, 7, '#f2f2f2', '#b0b0b0')

fig.savefig('out.png', dpi=100)
